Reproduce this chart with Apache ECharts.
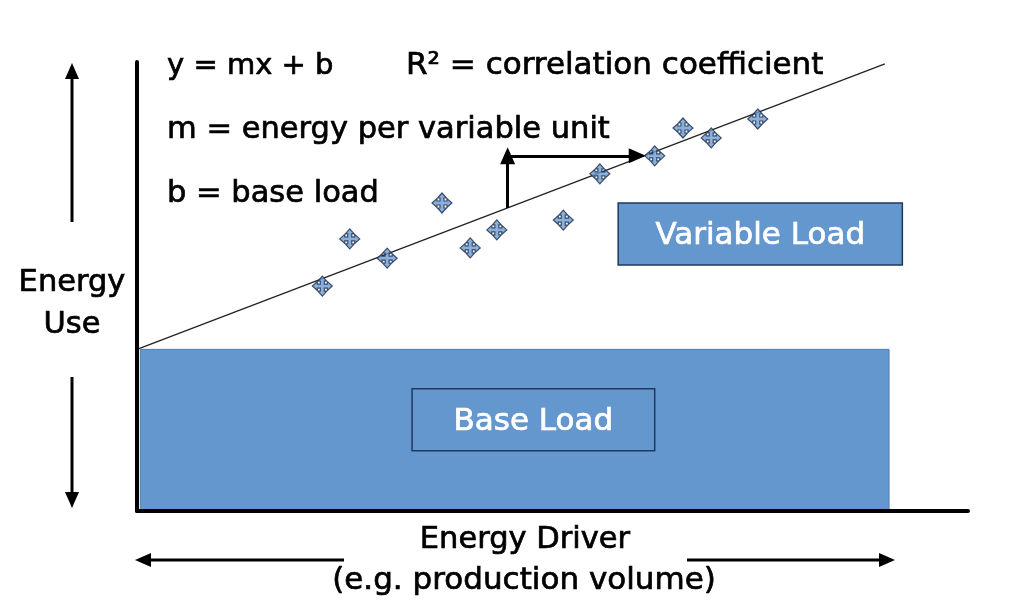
<!DOCTYPE html>
<html>
<head>
<meta charset="utf-8">
<script src="https://cdn.jsdelivr.net/npm/echarts@6/dist/echarts.min.js"></script>
<style>
html,body{margin:0;padding:0;background:#fff;}
#chart{width:1024px;height:602px;}
</style>
</head>
<body>
<div id="chart"></div>
<script>
// ---- data ----
const driverValues = [22.3, 25.6, 30.1, 36.7, 40.1, 43.3, 51.3, 55.7, 62.3, 65.7, 69.1, 74.7];
const energyValues = [50.1, 60.6, 56.3, 68.6, 58.6, 62.6, 64.8, 75.1, 79.1, 85.3, 83.1, 87.3];
const trendX = [0, 90];
const trendY = [36, 99.6];
const baseLoad = 36;
const baseLoadExtent = [0.4, 90.5];
const variableBox = { label: 'Variable Load', x: [57.9, 92.1], y: [54.8, 68.6] };
const baseBox = { label: 'Base Load', x: [33.1, 62.3], y: [13.4, 27.2] };
const riseX = 44.6;
const riseY = [67.5, 79.1];
const runX = [44.6, 60.2];
const equationLines = ['y = mx + b', 'R\u00B2 = correlation coefficient', 'm = energy per variable unit', 'b = base load'];
const yAxisTitle = ['Energy', 'Use'];
const xAxisTitle = ['Energy Driver', '(e.g. production volume)'];

const FONT = 'DejaVu Sans';
const fill = '#6497cd';
const crossPath = 'path://M10 0 L14.5 5 L12 5 L12 8 L15 8 L15 5.5 L20 10 L15 14.5 L15 12 L12 12 L12 15 L14.5 15 L10 20 L5.5 15 L8 15 L8 12 L5 12 L5 14.5 L0 10 L5 5.5 L5 8 L8 8 L8 5 L5.5 5 Z';

const points = driverValues.map((x, i) => [x, energyValues[i]]);
const trend = trendX.map((x, i) => [x, trendY[i]]);

function txt(text, x, y, size, align) {
  return { type: 'text', style: { text: text, x: x, y: y, font: size + 'px "' + FONT + '"', fill: '#000', stroke: '#000', lineWidth: 0.7, textAlign: align || 'left', textVerticalAlign: 'middle' } };
}
function arrow(x1, y1, x2, y2) {
  const dx = x2 - x1, dy = y2 - y1, len = Math.hypot(dx, dy);
  const ux = dx / len, uy = dy / len;
  const hl = 16, hw = 7;
  const bx = x2 - ux * hl, by = y2 - uy * hl;
  return [
    { type: 'line', shape: { x1: x1, y1: y1, x2: bx, y2: by }, style: { stroke: '#000', lineWidth: 3 } },
    { type: 'polygon', shape: { points: [[x2, y2], [bx - uy * hw, by + ux * hw], [bx + uy * hw, by - ux * hw]] }, style: { fill: '#000' } }
  ];
}

const chart = echarts.init(document.getElementById('chart'), null, { renderer: 'canvas' });
const axisCommon = {
  type: 'value', min: 0, max: 100, z: 10,
  axisLine: { show: true, lineStyle: { color: '#000', width: 4 } },
  axisTick: { show: false }, axisLabel: { show: false }, splitLine: { show: false }
};
chart.setOption({
  animation: false,
  backgroundColor: '#fff',
  grid: { left: 137, right: 56, top: 62, bottom: 91 },
  xAxis: Object.assign({}, axisCommon),
  yAxis: Object.assign({}, axisCommon),
  series: [
    {
      type: 'line', name: 'Base', data: [], z: 1,
      markArea: {
        silent: true,
        itemStyle: { color: fill, borderColor: '#4f7eb3', borderWidth: 1 },
        data: [[{ coord: [baseLoadExtent[0], 0] }, { coord: [baseLoadExtent[1], baseLoad] }]]
      }
    },
    {
      type: 'line', name: 'Trend', data: trend, z: 2, showSymbol: false, symbol: 'none',
      lineStyle: { color: '#222', width: 1.3 }
    },
    {
      type: 'line', name: 'Boxes', data: [], z: 3,
      markArea: {
        silent: true,
        itemStyle: { color: fill, borderColor: '#1f3a60', borderWidth: 1.5 },
        label: { show: true, position: 'inside', color: '#fff', fontSize: 31, fontFamily: FONT, textBorderColor: '#fff', textBorderWidth: 0.7, offset: [0, 2] },
        data: [
          [{ name: variableBox.label, coord: [variableBox.x[0], variableBox.y[1]] }, { coord: [variableBox.x[1], variableBox.y[0]] }],
          [{ name: baseBox.label, coord: [baseBox.x[0], baseBox.y[1]] }, { coord: [baseBox.x[1], baseBox.y[0]] }]
        ]
      },
      markLine: {
        silent: true,
        symbol: ['none', 'triangle'],
        symbolSize: [15, 17],
        label: { show: false },
        lineStyle: { color: '#000', width: 3, type: 'solid' },
        data: [
          [{ coord: [riseX, riseY[0]] }, { coord: [riseX, riseY[1]] }],
          [{ coord: [runX[0], riseY[1]] }, { coord: [runX[1], riseY[1]] }]
        ]
      }
    },
    {
      type: 'scatter', name: 'Data', data: points, z: 5,
      symbol: crossPath, symbolSize: 20,
      itemStyle: { color: '#6d9ed5', borderColor: '#1a2a48', borderWidth: 1.2 }
    }
  ],
  graphic: [
    txt(equationLines[0], 167, 66, 29),
    txt(equationLines[1], 406, 66, 31),
    txt(equationLines[2], 167, 130, 30.5),
    txt(equationLines[3], 167, 194, 30.5),
    txt(yAxisTitle[0], 72, 283, 30.5, 'center'),
    txt(yAxisTitle[1], 72, 325, 30.5, 'center'),
    txt(xAxisTitle[0], 525, 540, 30.5, 'center'),
    txt(xAxisTitle[1], 524, 581, 31, 'center')
  ].concat(arrow(72, 222, 72, 63), arrow(72, 377, 72, 508), arrow(344, 560, 135, 560), arrow(687, 560, 895, 560))
});
</script>
</body>
</html>
